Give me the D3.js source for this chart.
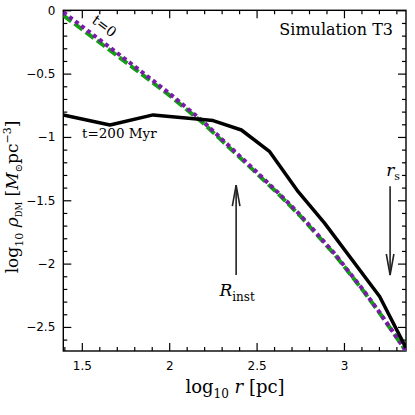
<!DOCTYPE html>
<html>
<head>
<meta charset="utf-8">
<script src="https://cdn.jsdelivr.net/npm/d3@7"></script>
<style>
	body { margin: 0; background: #fff; }
	svg { display: block; }
	.tick text { font-family: "DejaVu Sans", sans-serif; font-size: 12px; fill: #000; }
	.lbl { font-family: "DejaVu Serif", serif; fill: #000; }
</style>
</head>
<body>
<div id="chart"></div>
<script>
'use strict';

//Profile at t=0 (green dashed)
var initX = [1.394, 1.6, 1.8, 2.0, 2.194, 2.48, 2.632, 2.747, 2.948, 3.108, 3.204, 3.355];
var initY = [-0.04, -0.252, -0.46, -0.67, -0.89, -1.26, -1.46, -1.62, -1.93, -2.21, -2.39, -2.69];
//Fitted profile (purple dotted)
var fitX = [1.394, 1.6, 1.8, 2.0, 2.194, 2.48, 2.632, 2.747, 2.948, 3.108, 3.204, 3.355];
var fitY = [-0.015, -0.23, -0.44, -0.655, -0.878, -1.25, -1.452, -1.612, -1.923, -2.205, -2.385, -2.69];
//Profile at t=200 Myr (black)
var laterX = [1.394, 1.661, 1.908, 2.251, 2.413, 2.575, 2.738, 2.889, 3.204, 3.355];
var laterY = [-0.826, -0.905, -0.826, -0.871, -0.945, -1.116, -1.432, -1.68, -2.26, -2.665];

//Axes
var xTicks = [1.5, 2, 2.5, 3];
var xTickLabels = ['1.5', '2', '2.5', '3'];
var yTicks = [0, -0.5, -1, -1.5, -2, -2.5];
var yTickLabels = ['0', '\u22120.5', '\u22121', '\u22121.5', '\u22122', '\u22122.5'];
var xDomain = [1.394, 3.355];
var yDomain = [-2.69, 0];

//Annotation arrows: x position, tail y, head y
var rInst = [2.383, -2.09, -1.38];
var rS = [3.264, -1.39, -2.09];

var W = 415, H = 415;
var margin = {left: 63.3, right: 9, top: 10.3, bottom: 64};

var svg = d3.select('#chart').append('svg')
	.attr('width', W)
	.attr('height', H);

var x = d3.scaleLinear().domain(xDomain).range([margin.left, W - margin.right]);
var y = d3.scaleLinear().domain(yDomain).range([H - margin.bottom, margin.top]);

var xMinor = d3.range(1.4, 3.36, 0.1).map(function(d) { return +d.toFixed(1); })
	.filter(function(d) { return xTicks.indexOf(d) < 0; });
var yMinor = d3.range(-2.6, 0, 0.1).map(function(d) { return +d.toFixed(1); })
	.filter(function(d) { return yTicks.indexOf(d) < 0; });

//Draws major + minor ticks pointing inward (negative tick size)
function drawAxis(axisFn, scale, translate, opts) {
	var g = svg.append('g').attr('transform', translate);
	g.call(axisFn(scale).tickValues(opts.values).tickSize(-8).tickSizeOuter(0)
		.tickPadding(opts.pad || 0)
		.tickFormat(function(d, i) { return opts.text ? opts.text[i] : ''; }));
	var g2 = svg.append('g').attr('transform', translate);
	g2.call(axisFn(scale).tickValues(opts.minor).tickSize(-4).tickSizeOuter(0).tickFormat(''));
	[g, g2].forEach(function(a) {
		a.select('.domain').remove();
		a.selectAll('.tick line').attr('stroke', '#000').attr('stroke-width', 1.2);
	});
	return g;
}

var bottomY = H - margin.bottom, rightX = W - margin.right;
drawAxis(d3.axisBottom, x, 'translate(0,' + bottomY + ')', {values: xTicks, text: xTickLabels, minor: xMinor, pad: 10});
drawAxis(d3.axisTop, x, 'translate(0,' + margin.top + ')', {values: xTicks, minor: xMinor});
drawAxis(d3.axisLeft, y, 'translate(' + margin.left + ',0)', {values: yTicks, text: yTickLabels, minor: yMinor, pad: 8});
drawAxis(d3.axisRight, y, 'translate(' + rightX + ',0)', {values: yTicks, minor: yMinor});

//frame
svg.append('rect')
	.attr('x', margin.left).attr('y', margin.top)
	.attr('width', rightX - margin.left).attr('height', bottomY - margin.top)
	.attr('fill', 'none').attr('stroke', '#000').attr('stroke-width', 1.4);

//Clip for curves
svg.append('clipPath').attr('id', 'plotClip').append('rect')
	.attr('x', margin.left).attr('y', margin.top)
	.attr('width', rightX - margin.left).attr('height', bottomY - margin.top);

var line = d3.line()
	.x(function(d) { return x(d[0]); })
	.y(function(d) { return y(d[1]); });

function pts(xs, ys) { return xs.map(function(v, i) { return [v, ys[i]]; }); }

var curves = svg.append('g').attr('clip-path', 'url(#plotClip)');
curves.append('path')
	.attr('d', line(pts(initX, initY)))
	.attr('fill', 'none').attr('stroke', '#12a012').attr('stroke-width', 4)
	.attr('stroke-dasharray', '10,4');
curves.append('path')
	.attr('d', line(pts(fitX, fitY)))
	.attr('fill', 'none').attr('stroke', '#7a1aa8').attr('stroke-width', 4)
	.attr('stroke-dasharray', '4,3.5');
curves.append('path')
	.attr('d', line(pts(laterX, laterY)))
	.attr('fill', 'none').attr('stroke', '#000').attr('stroke-width', 3.5)
	.attr('stroke-linejoin', 'round');

//Arrows with open heads
function arrow(a) {
	var ax = x(a[0]), y0 = y(a[1]), y1 = y(a[2]);
	var dir = y1 < y0 ? 1 : -1;
	var g = svg.append('g').attr('stroke', '#222').attr('stroke-width', 1.6).attr('fill', 'none');
	g.append('line').attr('x1', ax).attr('x2', ax).attr('y1', y0).attr('y2', y1);
	g.append('path').attr('d', 'M' + (ax - 3.8) + ',' + (y1 + dir * 21) + 'L' + ax + ',' + y1 +
		'L' + (ax + 3.8) + ',' + (y1 + dir * 21));
}
arrow(rInst);
arrow(rS);

//Text labels
var t1 = svg.append('text').attr('class', 'lbl')
	.attr('x', x(rInst[0]) + 1).attr('y', y(rInst[1]) + 21)
	.attr('text-anchor', 'middle').style('font-size', '17px');
t1.append('tspan').attr('font-style', 'italic').text('R');
t1.append('tspan').attr('dy', 5).style('font-size', '12px').text('inst');

var t2 = svg.append('text').attr('class', 'lbl')
	.attr('x', x(rS[0]) + 3).attr('y', y(rS[1]) - 10)
	.attr('text-anchor', 'middle').style('font-size', '17px');
t2.append('tspan').attr('font-style', 'italic').text('r');
t2.append('tspan').attr('dy', 4).style('font-size', '11px').text('s');

svg.append('text').attr('class', 'lbl')
	.attr('x', 393).attr('y', 35)
	.attr('text-anchor', 'end').style('font-size', '16px')
	.text('Simulation T3');

svg.append('text').attr('class', 'lbl')
	.attr('x', 82).attr('y', 138)
	.style('font-size', '13.5px')
	.text('t=200 Myr');

svg.append('text').attr('class', 'lbl')
	.attr('transform', 'translate(91,22) rotate(37)')
	.style('font-size', '14px').attr('fill', '#12a012')
	.text('t=0');

//x axis title
var xl = svg.append('text').attr('class', 'lbl')
	.attr('x', 235).attr('y', 393)
	.attr('text-anchor', 'middle').style('font-size', '18px');
xl.append('tspan').text('log');
xl.append('tspan').attr('dy', 5).style('font-size', '12px').text('10');
xl.append('tspan').attr('dy', -5).attr('font-style', 'italic').text(' r');
xl.append('tspan').text('  [pc]');

//y axis title
var yl = svg.append('text').attr('class', 'lbl')
	.attr('transform', 'translate(18,197) rotate(-90)')
	.attr('text-anchor', 'middle').style('font-size', '17px');
yl.append('tspan').text('log');
yl.append('tspan').attr('dy', 5).style('font-size', '11px').text('10');
yl.append('tspan').attr('dy', -5).attr('font-style', 'italic').text(' \u03c1');
yl.append('tspan').attr('dy', 4).style('font-size', '8.5px').text('DM');
yl.append('tspan').attr('dy', -4).text(' [');
yl.append('tspan').attr('font-style', 'italic').text('M');
yl.append('tspan').attr('dy', 4).style('font-size', '10px').text('\u2299');
yl.append('tspan').attr('dy', -4).text('pc');
yl.append('tspan').attr('dy', -7).style('font-size', '11px').text('\u22123');
yl.append('tspan').attr('dy', 7).text(']');
</script>
</body>
</html>
